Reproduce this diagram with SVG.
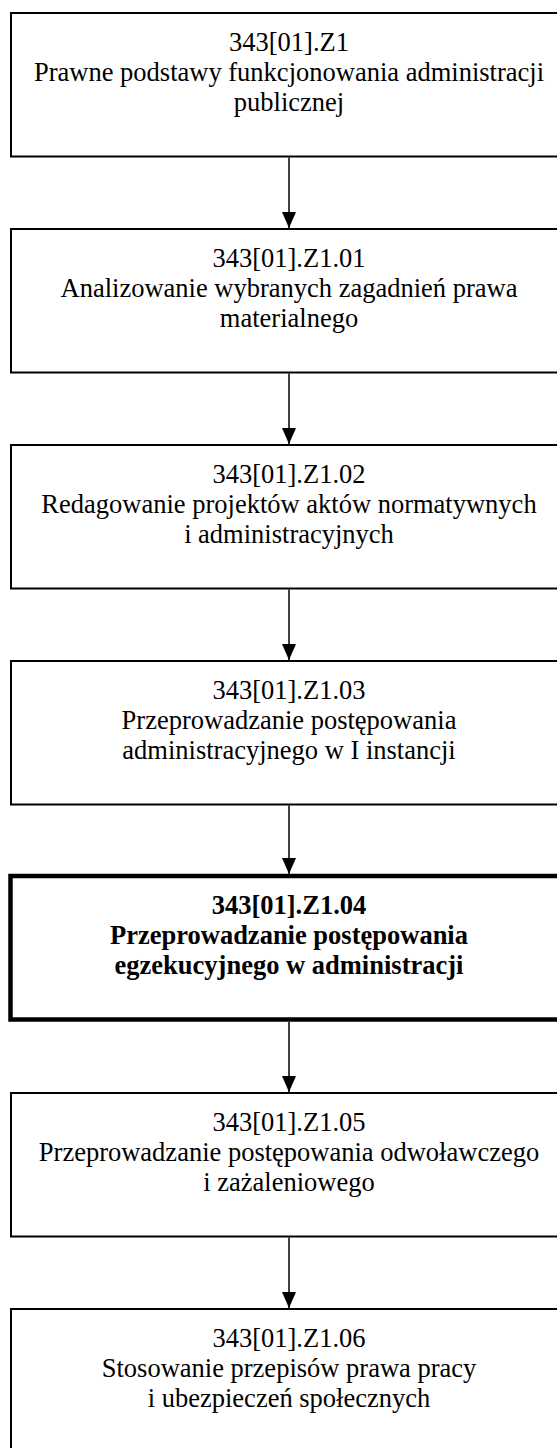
<svg xmlns="http://www.w3.org/2000/svg" width="557" height="1448" viewBox="0 0 557 1448">
<style>
.box{fill:#fff;stroke:#000;stroke-width:2}
.bold{fill:#fff;stroke:#000;stroke-width:4.5}
text{font-family:"Liberation Serif","Times New Roman",serif;font-size:26.5px;fill:#000;text-anchor:middle}
.b text{font-weight:bold}
.conn line{stroke:#000;stroke-width:1.5}
</style>
<defs>
<marker id="ah" markerWidth="16" markerHeight="14" refX="16" refY="7" orient="auto" markerUnits="userSpaceOnUse" viewBox="0 0 16 14">
<path d="M0,0 L16,7 L0,14 Z" fill="#000"/>
</marker>
</defs>
<g id="n1"><rect class="box" x="11" y="13" width="560" height="143.5"/>
<text x="289" y="51">343[01].Z1</text><text x="289" y="81">Prawne podstawy funkcjonowania administracji</text><text x="289" y="111">publicznej</text></g>
<g id="n2"><rect class="box" x="11" y="229" width="560" height="143.5"/>
<text x="289" y="267">343[01].Z1.01</text><text x="289" y="297">Analizowanie wybranych zagadnień prawa</text><text x="289" y="327">materialnego</text></g>
<g id="n3"><rect class="box" x="11" y="445" width="560" height="143.5"/>
<text x="289" y="483">343[01].Z1.02</text><text x="289" y="513">Redagowanie projektów aktów normatywnych</text><text x="289" y="543">i administracyjnych</text></g>
<g id="n4"><rect class="box" x="11" y="661" width="560" height="143.5"/>
<text x="289" y="699">343[01].Z1.03</text><text x="289" y="729">Przeprowadzanie postępowania</text><text x="289" y="759">administracyjnego w I instancji</text></g>
<g id="n5" class="b"><rect class="bold" x="10.5" y="876" width="560" height="143.5"/>
<text x="289" y="914">343[01].Z1.04</text><text x="289" y="944">Przeprowadzanie postępowania</text><text x="289" y="974">egzekucyjnego w administracji</text></g>
<g id="n6"><rect class="box" x="11" y="1093" width="560" height="143.5"/>
<text x="289" y="1131">343[01].Z1.05</text><text x="289" y="1161">Przeprowadzanie postępowania odwoławczego</text><text x="289" y="1191">i zażaleniowego</text></g>
<g id="n7"><rect class="box" x="11" y="1309" width="560" height="160"/>
<text x="289" y="1347">343[01].Z1.06</text><text x="289" y="1377">Stosowanie przepisów prawa pracy</text><text x="289" y="1407">i ubezpieczeń społecznych</text></g>
<g id="connectors" class="conn">
<line x1="289" y1="157.5" x2="289" y2="228" marker-end="url(#ah)"/>
<line x1="289" y1="373.5" x2="289" y2="444" marker-end="url(#ah)"/>
<line x1="289" y1="589.5" x2="289" y2="660" marker-end="url(#ah)"/>
<line x1="289" y1="805.5" x2="289" y2="874" marker-end="url(#ah)"/>
<line x1="289" y1="1022" x2="289" y2="1092" marker-end="url(#ah)"/>
<line x1="289" y1="1237.5" x2="289" y2="1308" marker-end="url(#ah)"/>
</g>
</svg>
